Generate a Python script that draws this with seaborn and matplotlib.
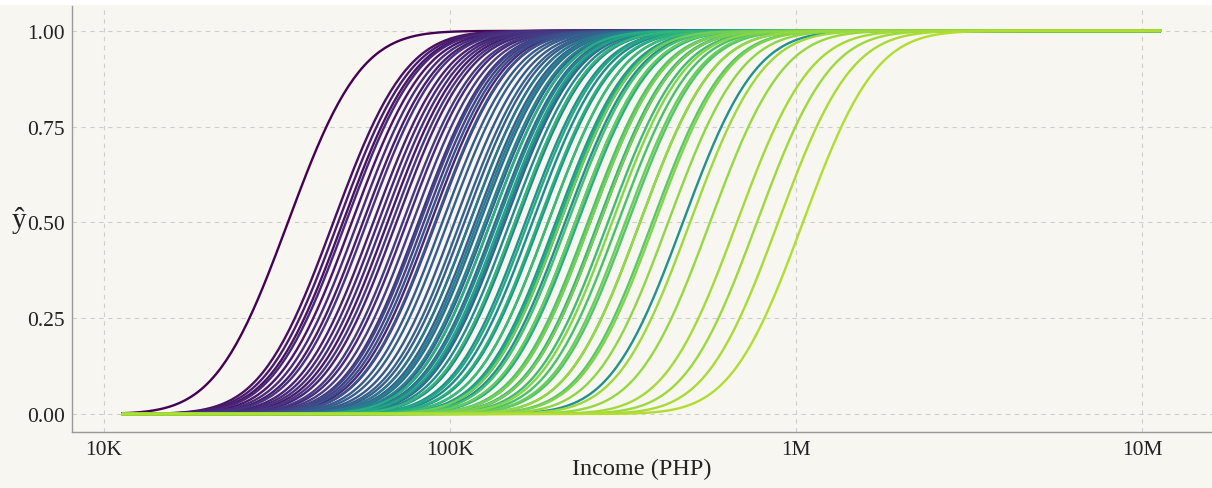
import math
import numpy as np
import pandas as pd
import matplotlib
matplotlib.use("Agg")
import matplotlib.pyplot as plt
import seaborn as sns
from matplotlib.ticker import FixedLocator, FixedFormatter, NullLocator

# ---- data -------------------------------------------------------------
# median income (thousand PHP) where each curve crosses y-hat = 0.5
medians_k = [
    # purple group
    34, 46, 47.5, 49, 50, 52, 54, 56, 57.5, 60, 62, 64, 66, 68, 70, 73, 75, 78, 81, 84, 88, 91,
    # blue group
    82, 86, 90.5, 95, 98.5, 103, 107, 110, 114, 118, 122, 128, 135, 144, 154,
    # teal group
    114, 120, 126, 131, 137, 142, 149, 156, 165, 173, 182, 192, 202, 215, 230, 254,
    # green group
    131, 140, 154, 168, 180, 192, 205, 219, 234, 250, 268, 286, 306, 327, 354, 384,
    # yellow-green group
    208, 230, 254, 271, 294, 321, 354, 391, 427, 494, 564, 675, 771, 888, 1047,
    # off-trend curves
    471, 271, 208,
]
# colour value of each curve (0 = dark purple, 1 = yellow)
colour_vals = [
    0.00, 0.04, 0.08, 0.05, 0.11, 0.06, 0.13, 0.08, 0.15, 0.09, 0.12, 0.14, 0.07, 0.16, 0.10, 0.17, 0.12, 0.18, 0.15, 0.19, 0.11, 0.17,
    0.22, 0.24, 0.26, 0.28, 0.30, 0.27, 0.32, 0.29, 0.34, 0.31, 0.35, 0.33, 0.36, 0.32, 0.37,
    0.40, 0.42, 0.44, 0.41, 0.46, 0.43, 0.48, 0.45, 0.50, 0.47, 0.52, 0.49, 0.54, 0.51, 0.55, 0.56,
    0.62, 0.58, 0.66, 0.60, 0.64, 0.68, 0.61, 0.70, 0.63, 0.72, 0.66, 0.69, 0.71, 0.73, 0.70, 0.74,
    0.78, 0.76, 0.80, 0.79, 0.82, 0.77, 0.84, 0.81, 0.83, 0.85, 0.84, 0.86, 0.85, 0.87, 0.88,
    0.50, 0.22, 0.25,
]
log_spread = 0.165         # spread of each curve in log10(income)
income_min, income_max = 11_300, 11_300_000

tick_vals = [1e4, 1e5, 1e6, 1e7]
tick_labels = ["10K", "100K", "1M", "10M"]
ytick_vals = [0.0, 0.25, 0.5, 0.75, 1.0]
ytick_labels = ["0.00", "0.25", "0.50", "0.75", "1.00"]

# ---- build long table -----------------------------------------------------
grid = np.geomspace(income_min, income_max, 400)
erf = np.vectorize(math.erf)
rows = []
for i, (m, c) in enumerate(zip(medians_k, colour_vals)):
    z = (np.log10(grid) - np.log10(m * 1000)) / (log_spread * math.sqrt(2))
    yhat = 0.5 * (1 + erf(z))
    rows.append(pd.DataFrame({"income": grid, "yhat": yhat, "curve": i, "cval": c}))
df = pd.concat(rows, ignore_index=True)

# ---- plotting -------------------------------------------------------------
bg = "#f8f6f0"
sns.set_theme(style="white")
plt.rcParams["font.family"] = ["Liberation Serif", "DejaVu Serif"]

fig = plt.figure(figsize=(12.12, 4.89), dpi=100, facecolor=bg)
ax = fig.add_axes([72 / 1212, 56 / 489, 1 - 72 / 1212, (433 - 7) / 489])
ax.set_facecolor(bg)

sns.lineplot(data=df, x="income", y="yhat", hue="cval", units="curve",
             estimator=None, palette="viridis", hue_norm=(0, 1),
             legend=False, linewidth=1.7, ax=ax, sort=False)

ax.set_xscale("log")
ax.set_xlim(10 ** (4 - 32 / 346), 10 ** (4 + 1108 / 346))
ax.set_ylim(-0.047, 1.065)

ax.xaxis.set_major_locator(FixedLocator(tick_vals))
ax.xaxis.set_major_formatter(FixedFormatter(tick_labels))
ax.xaxis.set_minor_locator(NullLocator())
ax.set_yticks(ytick_vals)
ax.set_yticklabels(ytick_labels)

ax.grid(True, which="major", color="#cfcfcf", linestyle=(0, (4, 4)), linewidth=0.8)
ax.set_axisbelow(True)
ax.tick_params(axis="both", length=0, labelsize=15.5, colors="#222222")
ax.tick_params(axis="x", pad=6)
ax.tick_params(axis="y", pad=5)

for s in ["top", "right"]:
    ax.spines[s].set_visible(False)
for s in ["left", "bottom"]:
    ax.spines[s].set_color("#9a9a9a")
    ax.spines[s].set_linewidth(1.0)

ax.set_xlabel("Income (PHP)", fontsize=17.5, color="#222222", labelpad=-1)
ax.set_ylabel("ŷ", fontsize=21, color="#222222", rotation=0, labelpad=6, va="center")

# thin white strip along the top edge
fig.add_artist(plt.Rectangle((0, 1 - 6 / 489), 1, 6 / 489, transform=fig.transFigure,
                             facecolor="white", edgecolor="none", zorder=-1))

fig.savefig("out.png", dpi=100, facecolor=bg)
